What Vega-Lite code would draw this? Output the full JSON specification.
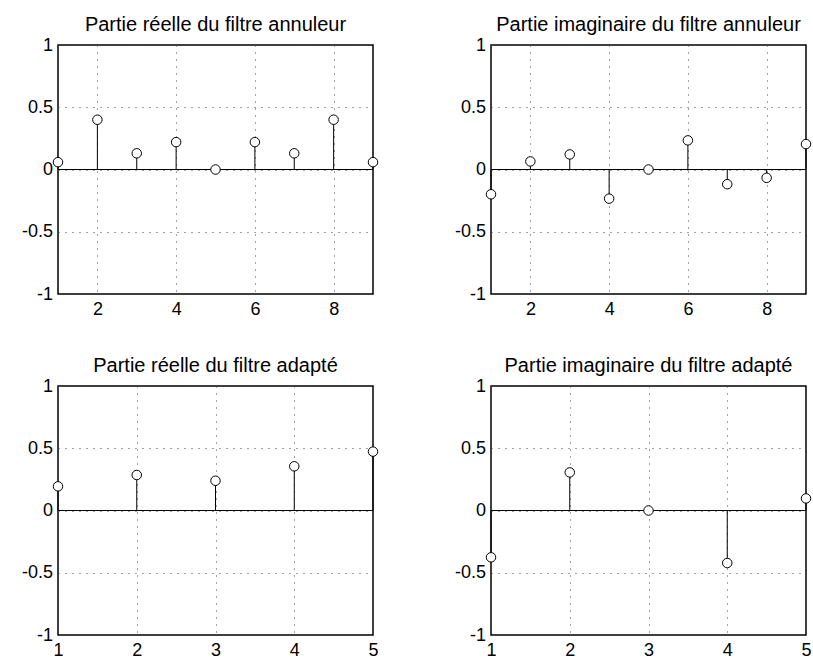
{
  "$schema": "https://vega.github.io/schema/vega-lite/v6.json",
  "background": "white",
  "padding": {"left": 20, "top": 14, "right": 0, "bottom": 0},
  "config": {
    "font": "Liberation Sans",
    "view": {"stroke": "black", "strokeWidth": 1.5},
    "concat": {"spacing": 0},
    "title": {"fontSize": 20, "fontWeight": "normal", "color": "black", "font": "Liberation Sans", "offset": 1, "anchor": "middle"},
    "axis": {
      "domain": false,
      "ticks": false,
      "tickSize": 0,
      "labelFont": "Liberation Sans",
      "labelFontSize": 18,
      "labelColor": "black",
      "labelFlush": false,
      "labelOverlap": false,
      "labelBound": false,
      "grid": true,
      "gridColor": "#444444",
      "gridDash": [1, 6],
      "gridWidth": 1,
      "gridOpacity": 1,
      "title": null
    },
    "axisX": {"labelPadding": 6.5},
    "axisY": {"labelPadding": 5.5}
  },
  "data": {
    "values": [
      {"panel": "a", "n": 1, "v": 0.059},
      {"panel": "a", "n": 2, "v": 0.40},
      {"panel": "a", "n": 3, "v": 0.13},
      {"panel": "a", "n": 4, "v": 0.22},
      {"panel": "a", "n": 5, "v": 0.0},
      {"panel": "a", "n": 6, "v": 0.22},
      {"panel": "a", "n": 7, "v": 0.13},
      {"panel": "a", "n": 8, "v": 0.40},
      {"panel": "a", "n": 9, "v": 0.059},
      {"panel": "b", "n": 1, "v": -0.199},
      {"panel": "b", "n": 2, "v": 0.065},
      {"panel": "b", "n": 3, "v": 0.121},
      {"panel": "b", "n": 4, "v": -0.234},
      {"panel": "b", "n": 5, "v": 0.0},
      {"panel": "b", "n": 6, "v": 0.234},
      {"panel": "b", "n": 7, "v": -0.118},
      {"panel": "b", "n": 8, "v": -0.067},
      {"panel": "b", "n": 9, "v": 0.204},
      {"panel": "c", "n": 1, "v": 0.194},
      {"panel": "c", "n": 2, "v": 0.285},
      {"panel": "c", "n": 3, "v": 0.239},
      {"panel": "c", "n": 4, "v": 0.355},
      {"panel": "c", "n": 5, "v": 0.473},
      {"panel": "d", "n": 1, "v": -0.376},
      {"panel": "d", "n": 2, "v": 0.306},
      {"panel": "d", "n": 3, "v": 0.0},
      {"panel": "d", "n": 4, "v": -0.422},
      {"panel": "d", "n": 5, "v": 0.097}
    ]
  },
  "columns": 2,
  "bounds": "flush",
  "spacing": {"column": 118, "row": 92},
  "concat": [
    {
      "title": "Partie réelle du filtre annuleur",
      "width": 315, "height": 249,
      "transform": [{"filter": "datum.panel === 'a'"}],
      "encoding": {
        "x": {"field": "n", "type": "quantitative", "scale": {"domain": [1, 9], "nice": false, "zero": false}, "axis": {"values": [2, 4, 6, 8]}},
        "y": {"field": "v", "type": "quantitative", "scale": {"domain": [-1, 1], "nice": false}, "axis": {"values": [-1, -0.5, 0, 0.5, 1], "labelExpr": "datum.value < 0 ? '-' + abs(datum.value) : '' + datum.value"}}
      },
      "layer": [
        {"mark": {"type": "rule", "color": "black", "strokeWidth": 1}, "encoding": {"x": null, "y": {"datum": 0}}},
        {"mark": {"type": "rule", "color": "black", "strokeWidth": 1}, "encoding": {"y2": {"datum": 0}}},
        {"mark": {"type": "point", "shape": "circle", "filled": true, "fill": "white", "stroke": "black", "strokeWidth": 1, "size": 90, "opacity": 1, "fillOpacity": 1}}
      ]
    },
    {
      "title": "Partie imaginaire du filtre annuleur",
      "width": 315, "height": 249,
      "transform": [{"filter": "datum.panel === 'b'"}],
      "encoding": {
        "x": {"field": "n", "type": "quantitative", "scale": {"domain": [1, 9], "nice": false, "zero": false}, "axis": {"values": [2, 4, 6, 8]}},
        "y": {"field": "v", "type": "quantitative", "scale": {"domain": [-1, 1], "nice": false}, "axis": {"values": [-1, -0.5, 0, 0.5, 1], "labelExpr": "datum.value < 0 ? '-' + abs(datum.value) : '' + datum.value"}}
      },
      "layer": [
        {"mark": {"type": "rule", "color": "black", "strokeWidth": 1}, "encoding": {"x": null, "y": {"datum": 0}}},
        {"mark": {"type": "rule", "color": "black", "strokeWidth": 1}, "encoding": {"y2": {"datum": 0}}},
        {"mark": {"type": "point", "shape": "circle", "filled": true, "fill": "white", "stroke": "black", "strokeWidth": 1, "size": 90, "opacity": 1, "fillOpacity": 1}}
      ]
    },
    {
      "title": "Partie réelle du filtre adapté",
      "width": 315, "height": 249,
      "transform": [{"filter": "datum.panel === 'c'"}],
      "encoding": {
        "x": {"field": "n", "type": "quantitative", "scale": {"domain": [1, 5], "nice": false, "zero": false}, "axis": {"values": [1, 2, 3, 4, 5]}},
        "y": {"field": "v", "type": "quantitative", "scale": {"domain": [-1, 1], "nice": false}, "axis": {"values": [-1, -0.5, 0, 0.5, 1], "labelExpr": "datum.value < 0 ? '-' + abs(datum.value) : '' + datum.value"}}
      },
      "layer": [
        {"mark": {"type": "rule", "color": "black", "strokeWidth": 1}, "encoding": {"x": null, "y": {"datum": 0}}},
        {"mark": {"type": "rule", "color": "black", "strokeWidth": 1}, "encoding": {"y2": {"datum": 0}}},
        {"mark": {"type": "point", "shape": "circle", "filled": true, "fill": "white", "stroke": "black", "strokeWidth": 1, "size": 90, "opacity": 1, "fillOpacity": 1}}
      ]
    },
    {
      "title": "Partie imaginaire du filtre adapté",
      "width": 315, "height": 249,
      "transform": [{"filter": "datum.panel === 'd'"}],
      "encoding": {
        "x": {"field": "n", "type": "quantitative", "scale": {"domain": [1, 5], "nice": false, "zero": false}, "axis": {"values": [1, 2, 3, 4, 5]}},
        "y": {"field": "v", "type": "quantitative", "scale": {"domain": [-1, 1], "nice": false}, "axis": {"values": [-1, -0.5, 0, 0.5, 1], "labelExpr": "datum.value < 0 ? '-' + abs(datum.value) : '' + datum.value"}}
      },
      "layer": [
        {"mark": {"type": "rule", "color": "black", "strokeWidth": 1}, "encoding": {"x": null, "y": {"datum": 0}}},
        {"mark": {"type": "rule", "color": "black", "strokeWidth": 1}, "encoding": {"y2": {"datum": 0}}},
        {"mark": {"type": "point", "shape": "circle", "filled": true, "fill": "white", "stroke": "black", "strokeWidth": 1, "size": 90, "opacity": 1, "fillOpacity": 1}}
      ]
    }
  ]
}
